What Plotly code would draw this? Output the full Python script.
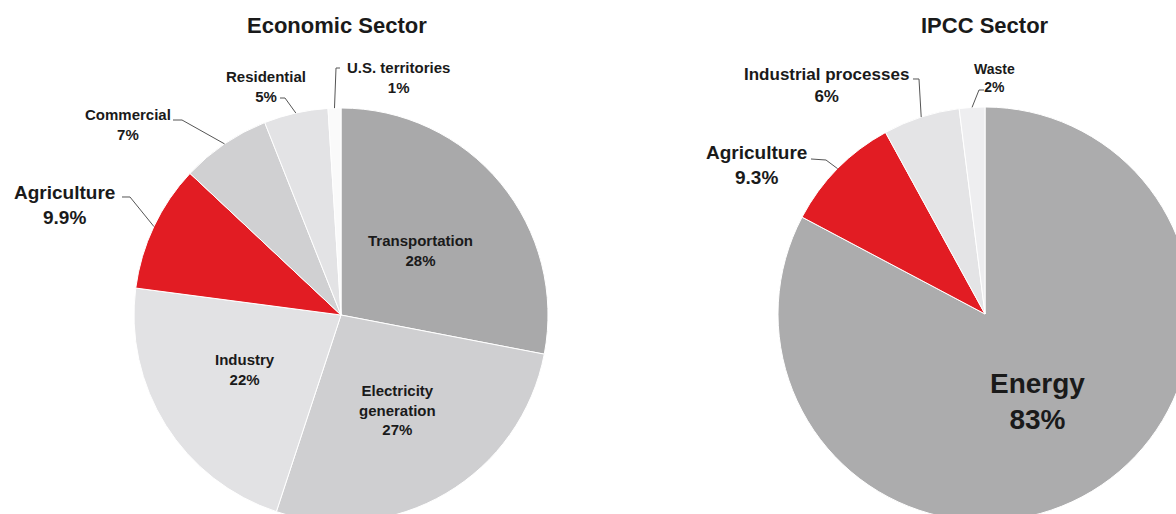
import math
import plotly.graph_objects as go

# ---------------- data ----------------
econ_labels = ["Transportation", "Electricity generation", "Industry", "Agriculture",
               "Commercial", "Residential", "U.S. territories"]
econ_values = [28, 27, 22, 9.9, 7, 5, 1]
econ_text = ["28%", "27%", "22%", "9.9%", "7%", "5%", "1%"]
econ_colors = ["#a9a9aa", "#cfcfd1", "#e2e2e4", "#e21c23", "#d0d0d2", "#e3e3e5", "#fafafa"]

ipcc_labels = ["Energy", "Agriculture", "Industrial processes", "Waste"]
ipcc_values = [83, 9.3, 6, 2]
ipcc_text = ["83%", "9.3%", "6%", "2%"]
ipcc_colors = ["#acacad", "#e21c23", "#e4e4e6", "#eeeef0"]

titles = ["Economic Sector", "IPCC Sector"]

# ---------------- layout geometry (pixels) ----------------
W, H = 1200, 524
R = 207
LC = (341, 315)   # left pie centre
RC = (985, 314)   # right pie centre
FONT = "Liberation Sans, Arial, sans-serif"
TXT = "#1a1a1a"


def px(x):
    return x / W


def py(y):
    return 1 - y / H


def dom(c):
    return dict(x=[px(c[0] - R), px(c[0] + R)], y=[py(c[1] + R), py(c[1] - R)])


def edge_point(values, idx, c):
    tot = sum(values)
    start = sum(values[:idx]) / tot * 360
    mid = start + values[idx] / tot * 360 / 2
    a = math.radians(mid)
    return (c[0] + R * math.sin(a), c[1] - R * math.cos(a))


fig = go.Figure()
fig.add_trace(go.Pie(labels=econ_labels, values=econ_values, sort=False, direction="clockwise",
                     rotation=0, marker=dict(colors=econ_colors, line=dict(color="white", width=1)),
                     textinfo="none", hoverinfo="label+percent", domain=dom(LC), showlegend=False))
fig.add_trace(go.Pie(labels=ipcc_labels, values=ipcc_values, sort=False, direction="clockwise",
                     rotation=0, marker=dict(colors=ipcc_colors, line=dict(color="white", width=1)),
                     textinfo="none", hoverinfo="label+percent", domain=dom(RC), showlegend=False))

annotations = []


def label(text, x, y, size):
    annotations.append(dict(text=text, x=px(x), y=py(y), xref="paper", yref="paper",
                            showarrow=False, xanchor="center", yanchor="middle",
                            font=dict(family=FONT, size=size, color=TXT), align="center"))


label("<b>%s</b>" % titles[0], 337, 25, 22)
label("<b>%s</b>" % titles[1], 985, 25, 22)

# left pie labels
label("<b>%s</b><br><b>%s</b>" % (econ_labels[0], econ_text[0]), 420, 251, 15)
label("<b>Electricity<br>generation</b><br><b>%s</b>" % econ_text[1], 397, 410, 15)
label("<b>%s</b><br><b>%s</b>" % (econ_labels[2], econ_text[2]), 245, 369, 15)
label("<b>%s</b><br><b>%s</b>" % (econ_labels[3], econ_text[3]), 64, 205, 19)
label("<b>%s</b><br><b>%s</b>" % (econ_labels[4], econ_text[4]), 128, 124, 15)
label("<b>%s</b><br><b>%s</b>" % (econ_labels[5], econ_text[5]), 266, 86, 15)
label("<b>%s</b><br><b>%s</b>" % (econ_labels[6], econ_text[6]), 398, 78, 15)

# right pie labels
label("<b>%s</b><br><b>%s</b>" % (ipcc_labels[0], ipcc_text[0]), 1037, 401, 28)
label("<b>%s</b><br><b>%s</b>" % (ipcc_labels[1], ipcc_text[1]), 756, 165, 19)
label("<b>%s</b><br><b>%s</b>" % (ipcc_labels[2], ipcc_text[2]), 826, 85, 17)
label("<b>%s</b><br><b>%s</b>" % (ipcc_labels[3], ipcc_text[3]), 994, 78, 14)

# leader lines: text end -> elbow -> slice edge (computed from data)
shapes = []


def leader(p0, p1, values, idx, c):
    e = edge_point(values, idx, c)
    path = "M %f %f L %f %f L %f %f" % (px(p0[0]), py(p0[1]), px(p1[0]), py(p1[1]), px(e[0]), py(e[1]))
    shapes.append(dict(type="path", path=path, xref="paper", yref="paper",
                       line=dict(color="#555555", width=1)))


leader((280, 98), (285, 98), econ_values, 5, LC)
leader((340, 68), (336, 68), econ_values, 6, LC)
leader((173, 120), (182, 120), econ_values, 4, LC)
leader((122, 197), (130, 197), econ_values, 3, LC)

leader((913, 79), (919, 79), ipcc_values, 2, RC)
leader((984, 90), (979, 90), ipcc_values, 3, RC)
leader((811, 159), (826, 160), ipcc_values, 1, RC)

fig.update_layout(width=W, height=H, margin=dict(l=0, r=0, t=0, b=0),
                  paper_bgcolor="white", plot_bgcolor="white",
                  annotations=annotations, shapes=shapes)

fig.write_html("out.html",
               post_script="document.body.style.margin='0';document.body.style.overflow='hidden';"
                           "document.documentElement.style.overflow='hidden';")
